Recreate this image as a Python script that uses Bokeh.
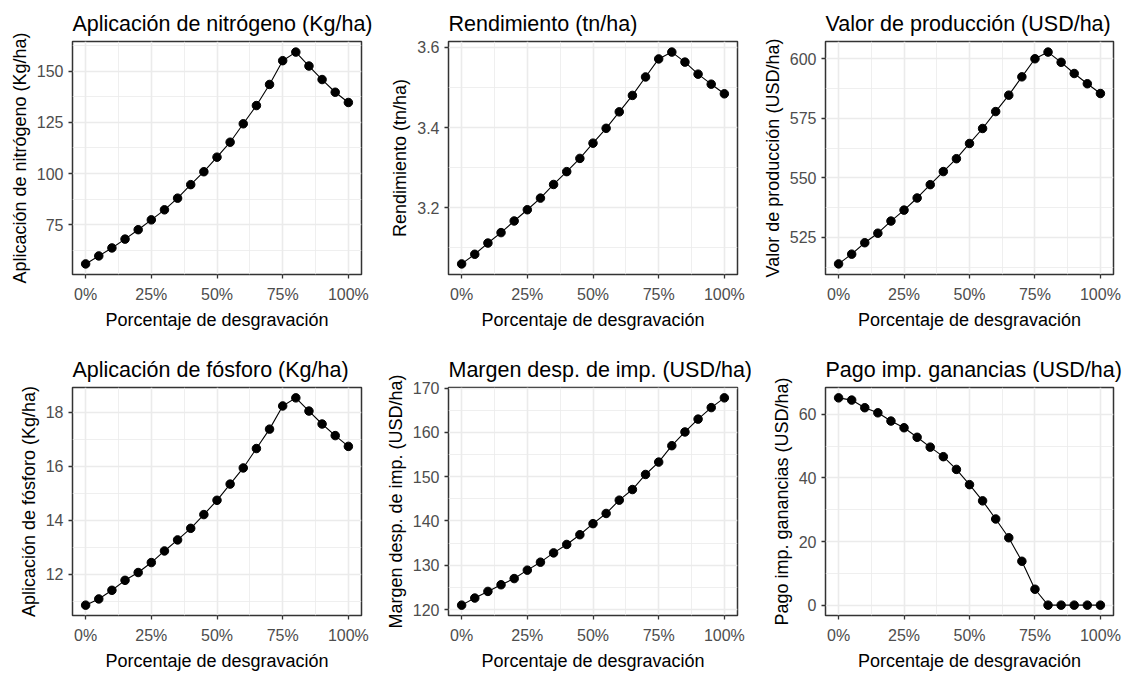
from bokeh.plotting import figure
from bokeh.layouts import gridplot
from bokeh.models import Range1d, FixedTicker, NumeralTickFormatter
from bokeh.embed import file_html
from bokeh.resources import INLINE

# ---------------- data ----------------
desgravacion = [0.00, 0.05, 0.10, 0.15, 0.20, 0.25, 0.30, 0.35, 0.40, 0.45, 0.50,
                0.55, 0.60, 0.65, 0.70, 0.75, 0.80, 0.85, 0.90, 0.95, 1.00]

nitrogeno = [55.9, 59.8, 63.7, 68.0, 72.6, 77.4, 82.3, 88.0, 94.6, 100.9, 108.0,
             115.3, 124.3, 133.2, 143.5, 155.1, 159.3, 152.5, 145.9, 139.7, 134.7]
rendimiento = [3.060, 3.084, 3.112, 3.138, 3.167, 3.195, 3.224, 3.258, 3.290, 3.323, 3.361,
               3.398, 3.439, 3.480, 3.526, 3.571, 3.588, 3.563, 3.533, 3.508, 3.484]
valor_produccion = [513.9, 518.0, 522.8, 526.8, 531.9, 536.5, 541.6, 547.2, 552.7, 558.1, 564.5,
                    570.8, 577.9, 584.8, 592.5, 600.1, 602.9, 598.6, 593.9, 589.6, 585.5]
fosforo = [10.85, 11.08, 11.40, 11.77, 12.06, 12.43, 12.86, 13.27, 13.70, 14.21, 14.74,
           15.34, 15.94, 16.66, 17.38, 18.24, 18.54, 18.05, 17.57, 17.14, 16.74]
margen = [121.0, 122.6, 124.1, 125.6, 127.0, 128.9, 130.7, 132.8, 134.7, 136.9, 139.4,
          141.7, 144.7, 147.1, 150.5, 153.3, 157.0, 160.1, 163.0, 165.6, 167.8]
pago_ganancias = [65.2, 64.5, 62.1, 60.5, 57.9, 55.8, 52.8, 49.7, 46.7, 42.7, 37.9,
                  32.8, 27.1, 21.2, 13.8, 5.0, 0.0, 0.0, 0.0, 0.0, 0.0]

x_ticks = [0.0, 0.25, 0.5, 0.75, 1.0]

titles = ["Aplicación de nitrógeno (Kg/ha)", "Rendimiento (tn/ha)", "Valor de producción (USD/ha)",
          "Aplicación de fósforo (Kg/ha)", "Margen desp. de imp. (USD/ha)", "Pago imp. ganancias (USD/ha)"]
series = [nitrogeno, rendimiento, valor_produccion, fosforo, margen, pago_ganancias]
y_ticks = [[75, 100, 125, 150], [3.2, 3.4, 3.6], [525, 550, 575, 600],
           [12, 14, 16, 18], [120, 130, 140, 150, 160, 170], [0, 20, 40, 60]]
y_tick_labels = [["75", "100", "125", "150"], ["3.2", "3.4", "3.6"], ["525", "550", "575", "600"],
                 ["12", "14", "16", "18"], ["120", "130", "140", "150", "160", "170"], ["0", "20", "40", "60"]]
x_label = "Porcentaje de desgravación"

# ---------------- layout ----------------
FONT = "Liberation Sans"
col_w = [375, 376, 376]
col_left = [72, 73, 74]
col_frame = [289, 289, 288]
row_h = [336, 337]
row_top = [41, 51]
row_frame = [233, 232]

GRID = "#EBEBEB"
DARK = "#333333"


def minor_of(ticks, lo, hi):
    d = ticks[1] - ticks[0]
    ext = [ticks[0] - d] + list(ticks) + [ticks[-1] + d]
    m = [(a + b) / 2 for a, b in zip(ext[:-1], ext[1:])]
    return [v for v in m if lo <= v <= hi]


figs = []
for i in range(6):
    r, c = divmod(i, 3)
    ys = series[i]
    lo, hi = min(ys), max(ys)
    pad = (hi - lo) * 0.05
    ylo, yhi = lo - pad, hi + pad
    w, h = col_w[c], row_h[r]
    p = figure(width=w, height=h, output_backend="svg", toolbar_location=None,
               x_range=Range1d(-0.05, 1.05), y_range=Range1d(ylo, yhi),
               min_border_left=col_left[c], min_border_right=w - col_left[c] - col_frame[c],
               min_border_top=row_top[r], min_border_bottom=h - row_top[r] - row_frame[r],
               title=titles[i])
    p.title.text_font = FONT
    p.title.text_font_size = "21.5px"
    p.title.text_font_style = "normal"
    p.title.text_color = "black"
    p.title.align = "left"
    p.title.offset = 0
    p.title.standoff = 11

    p.background_fill_color = "white"
    p.border_fill_color = "white"
    p.outline_line_color = DARK
    p.outline_line_width = 1.5

    xt = FixedTicker(ticks=x_ticks, minor_ticks=minor_of(x_ticks, -0.05, 1.05))
    yt = FixedTicker(ticks=y_ticks[i], minor_ticks=minor_of(y_ticks[i], ylo, yhi))
    p.xaxis.ticker = xt
    p.yaxis.ticker = yt
    p.xgrid.ticker = xt
    p.ygrid.ticker = yt
    p.xaxis.formatter = NumeralTickFormatter(format="0%")
    p.yaxis.major_label_overrides = {v: s for v, s in zip(y_ticks[i], y_tick_labels[i])}

    for g in (p.xgrid, p.ygrid):
        g.grid_line_color = GRID
        g.grid_line_width = 1.6
        g.minor_grid_line_color = GRID
        g.minor_grid_line_width = 0.8

    for ax in (p.xaxis, p.yaxis):
        ax.axis_line_color = None
        ax.major_tick_line_color = DARK
        ax.major_tick_line_width = 1.3
        ax.major_tick_in = 0
        ax.major_tick_out = 4
        ax.minor_tick_line_color = None
        ax.major_label_text_font = FONT
        ax.major_label_text_font_size = "16px"
        ax.major_label_text_color = "#4D4D4D"
        ax.axis_label_text_font = FONT
        ax.axis_label_text_font_size = "18px"
        ax.axis_label_text_font_style = "normal"
        ax.axis_label_text_color = "black"
        ax.axis_label_standoff = 4
    p.xaxis.major_label_standoff = 7
    p.yaxis.major_label_standoff = 5

    p.xaxis.axis_label = x_label
    p.yaxis.axis_label = titles[i]

    p.line(desgravacion, ys, line_color="black", line_width=1.1)
    p.scatter(desgravacion, ys, size=8.5, fill_color="black", line_color="black")
    figs.append(p)

layout = gridplot([figs[:3], figs[3:]], toolbar_location=None)
open("out.html", "w").write(file_html(layout, INLINE))
